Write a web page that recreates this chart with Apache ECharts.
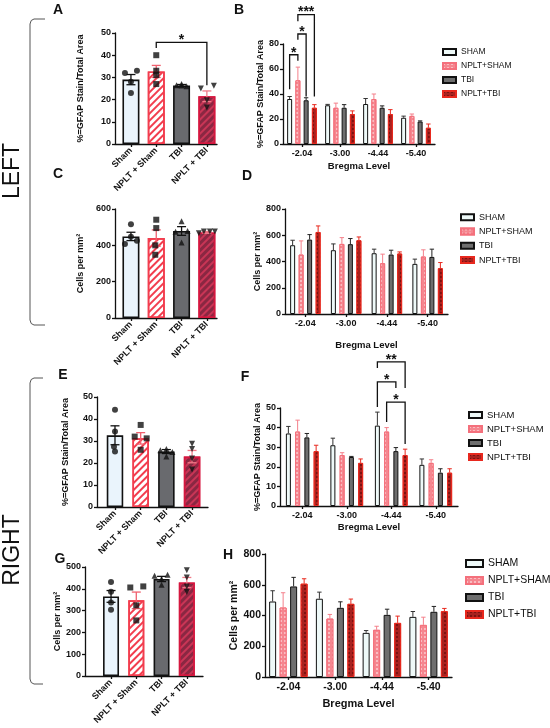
<!DOCTYPE html>
<html>
<head>
<meta charset="utf-8">
<script src="https://cdn.jsdelivr.net/npm/echarts@6.0.0/dist/echarts.min.js"></script>
<style>
  html, body { margin: 0; padding: 0; background: #fff; }
  #main { width: 550px; height: 728px; }
</style>
</head>
<body>
<div id="main"></div>
<script>
// ---- data ----
const groups = ['Sham', 'NPLT + Sham', 'TBI', 'NPLT + TBI'];
const seriesNames = ['SHAM', 'NPLT+SHAM', 'TBI', 'NPLT+TBI'];
const bregma = ['-2.04', '-3.00', '-4.44', '-5.40'];

// A: left hemisphere, %GFAP
const meanA = [29, 32.7, 26.3, 21.5];
const semA = [2.3, 2.7, 0.5, 2.4];
const dotsA = [[32, 33, 28, 23], [40, 33, 31, 27], [26.5, 27, 26, 26.3], [25, 26.2, 19.7, 16.4]];
const sigA = [[1, 3, 45.8, 43.2, 26.5]];          // from, to, top, left end, right end
const starsA = ['*'];

// B: left, %GFAP by bregma level (rows = SHAM, NPLT+SHAM, TBI, NPLT+TBI)
const meanB = [[36, 31, 32, 21], [51, 29, 36, 22.5], [35, 29, 29, 18], [29, 24, 24, 13]];
const semB = [[2, 0.7, 4.4, 1.3], [10.5, 3.7, 4, 1.5], [2, 2.5, 1.5, 0.5], [2.5, 2.5, 3.5, 3]];
const sigB = [[0, 0, 1, 71.4, 43.9, 66.6], [0, 1, 2, 88, 83.5, 38], [0, 1, 3, 103.5, 98.2, 38]]; // level, bar1, bar2, top, left end, right end
const starsB = ['*', '*', '***'];

// C: left, cells per mm2
const meanC = [449, 440, 479, 471];
const semC = [23, 45, 24, 5];
const dotsC = [[516, 407, 425, 447], [541, 495, 400, 348], [532, 475, 479, 416], [466, 476, 476, 476]];

// D: left, cells per mm2 by bregma level
const meanD = [[524, 486, 463, 382], [453, 534, 387, 438], [567, 532, 453, 435], [625, 562, 461, 349]];
const semD = [[38, 48, 31, 36], [104, 48, 69, 51], [38, 43, 33, 59], [46, 25, 12, 43]];

// E: right, %GFAP
const meanE = [32.6, 31.2, 25.2, 22.9];
const semE = [4.3, 2.6, 0.9, 2.8];
const dotsE = [[44.2, 34.3, 27.4, 25.2], [37.3, 32, 31.2, 26], [26.4, 25.8, 25, 22.9], [28.7, 26.4, 22, 17.1]];

// F: right, %GFAP by bregma level
const meanF = [[37, 31, 41, 21], [38, 26, 38, 22], [35, 25, 28, 17], [28, 22, 26, 17]];
const semF = [[3.6, 3.6, 6.9, 3], [5.8, 1.2, 2, 1.6], [2, 0.3, 1.8, 2], [3, 2, 3, 2]];
const sigF = [[2, 0, 3, 73.5, 70.4, 60.2], [2, 0, 2, 63.3, 50.5, 60.2], [2, 1, 3, 53, 42.9, 31.6]];
const starsF = ['**', '*', '*'];

// G: right, cells per mm2
const meanG = [365, 347, 445, 429];
const semG = [27, 38, 12, 23];
const dotsG = [[431, 386, 337, 304], [406, 411, 324, 255], [460, 465, 419, 445], [485, 452, 411, 385]];

// H: right, cells per mm2 by bregma level
const meanH = [[491, 509, 287, 391], [452, 380, 307, 339], [589, 450, 404, 424], [607, 476, 352, 428]];
const semH = [[70, 43, 15, 35], [96, 27, 23, 50], [59, 39, 37, 35], [32, 31, 44, 18]];

// ---- styles ----
const FONT = '"Liberation Sans", Arial, Helvetica, sans-serif';
const INK = '#111';

function stripe(c) {
  return { symbol: 'rect', symbolSize: 1, dashArrayX: [1, 0], dashArrayY: [2, 3], rotation: -Math.PI / 4, color: c };
}
function checker(c) {
  return { symbol: 'rect', symbolSize: 1, dashArrayX: [2, 2], dashArrayY: [2, 2], color: c };
}

const singleStyle = [
  { color: '#eaf4fc', borderColor: INK, borderWidth: 1.6 },
  { color: '#ffffff', borderColor: '#f23d4e', borderWidth: 1.6, decal: stripe('#f23d4e') },
  { color: '#696a6e', borderColor: INK, borderWidth: 1.6 },
  { color: '#8a2742', borderColor: '#d5173f', borderWidth: 1.6, decal: stripe('#c93556') }
];
const singleErr = [INK, '#f0606e', INK, '#f07a88'];
const dotSym = ['circle', 'rect', 'triangle', 'triangle'];
const dotRot = [0, 0, 0, 180];
// horizontal scatter of the dots, px
const jitA = [[-6, 6, 0, 0], [0, 0, 0, 0], [-5, 0, 5, 0], [-6, 7, 0, 0]];
const jitC = [[0, -6, 6, 0], [0, 0, -1, -1], [0, -6, 6, 0], [-8, -3, 3, 8]];
const jitE = [[0, 0, -1, 0], [0, -6, 6, 0], [0, -6, 6, 0], [0, 0, 0, 0]];
const jitG = [[0, 0, 0, 0], [-6, 7, 0, 0], [-7, 6, 0, 0], [0, 0, 0, 0]];

const groupStyle = [
  { color: '#eef9f8', borderColor: INK, borderWidth: 1 },
  { color: '#f5868f', borderColor: '#f4707c', borderWidth: 1, decal: checker('rgba(255,255,255,0.45)') },
  { color: '#6e6e6e', borderColor: INK, borderWidth: 1 },
  { color: '#a8221f', borderColor: '#e8281e', borderWidth: 1, decal: checker('rgba(70,0,0,0.45)') }
];
const groupErr = ['#333', '#f4808b', '#222', '#e8281e'];

const grids = [], xAxes = [], yAxes = [], series = [], legends = [];

function yAxisCfg(gi, max, step, name, gap, fs) {
  return {
    gridIndex: gi, type: 'value', min: 0, max: max, interval: step,
    name: name, nameLocation: 'middle', nameGap: gap, nameRotate: 90,
    nameTextStyle: { fontFamily: FONT, fontWeight: 'bold', fontSize: fs, color: INK },
    axisLine: { show: true, onZero: false, lineStyle: { color: INK, width: 1.3 } },
    axisTick: { show: true, length: 3, lineStyle: { color: INK, width: 1.3 } },
    axisLabel: { fontFamily: FONT, fontWeight: 'bold', fontSize: fs, color: INK, margin: 4 },
    splitLine: { show: false }
  };
}

function addSingle(p) {
  const gi = grids.length;
  grids.push(p.grid);
  xAxes.push({
    gridIndex: gi, type: 'value', min: p.xMin, max: p.xMax,
    axisLine: { show: true, onZero: false, lineStyle: { color: INK, width: 1.3 } },
    axisTick: { show: true, customValues: [0, 1, 2, 3], length: 3, lineStyle: { color: INK, width: 1.3 } },
    axisLabel: {
      customValues: [0, 1, 2, 3], formatter: v => groups[Math.round(v)], rotate: 45, margin: 5,
      fontFamily: FONT, fontWeight: 'bold', fontSize: p.fs, color: INK
    },
    splitLine: { show: false }
  });
  yAxes.push(yAxisCfg(gi, p.yMax, p.yStep, p.yName, p.nameGap, p.fs));
  series.push({
    type: 'bar', xAxisIndex: gi, yAxisIndex: gi, barWidth: p.barW, z: 2,
    data: p.means.map((v, i) => ({ value: [i, v], itemStyle: singleStyle[i] }))
  });
  series.push({
    type: 'custom', xAxisIndex: gi, yAxisIndex: gi, z: 4, clip: false,
    data: p.means.map((v, i) => [i, v, p.sems[i]]),
    renderItem: function (params, api) {
      const x = api.value(0), m = api.value(1), e = api.value(2);
      const t = api.coord([x, m + e]), b = api.coord([x, m - e]);
      const st = { stroke: singleErr[params.dataIndex], lineWidth: 1.3 };
      return { type: 'group', children: [
        { type: 'line', shape: { x1: t[0], y1: t[1], x2: b[0], y2: b[1] }, style: st },
        { type: 'line', shape: { x1: t[0] - 4.5, y1: t[1], x2: t[0] + 4.5, y2: t[1] }, style: st },
        { type: 'line', shape: { x1: b[0] - 4.5, y1: b[1], x2: b[0] + 4.5, y2: b[1] }, style: st }
      ] };
    }
  });
  p.dots.forEach((vals, i) => {
    series.push({
      type: 'scatter', xAxisIndex: gi, yAxisIndex: gi, z: 5,
      symbol: dotSym[i], symbolRotate: dotRot[i], symbolSize: 6,
      itemStyle: { color: INK },
      data: vals.map((v, j) => ({ value: [i, v], symbolOffset: [p.jit[i][j], 0] }))
    });
  });
  if (p.sig) {
    series.push({
      type: 'custom', xAxisIndex: gi, yAxisIndex: gi, z: 6, clip: false,
      data: p.sig,
      renderItem: function (params, api) {
        const r = p.sig[params.dataIndex];
        const a = api.coord([r[0], r[2]]), b = api.coord([r[1], r[2]]);
        const yl = api.coord([r[0], r[3]])[1], yr = api.coord([r[1], r[4]])[1];
        return bracket(a[0], b[0], a[1], yl, yr, p.stars[params.dataIndex]);
      }
    });
  }
}

function bracket(x1, x2, yt, yl, yr, label) {
  return { type: 'group', children: [
    { type: 'polyline', shape: { points: [[x1, yl], [x1, yt], [x2, yt], [x2, yr]] },
      style: { stroke: INK, lineWidth: 1.3, fill: 'none' } },
    { type: 'text', x: (x1 + x2) / 2, y: yt - 2,
      style: { text: label, fontFamily: FONT, fontWeight: 'bold', fontSize: 14, fill: INK, align: 'center', verticalAlign: 'middle' } }
  ] };
}

function addGrouped(p) {
  const gi = grids.length;
  grids.push(p.grid);
  xAxes.push({
    gridIndex: gi, type: 'category', data: bregma,
    name: 'Bregma Level', nameLocation: 'middle', nameGap: p.xNameGap,
    nameTextStyle: { fontFamily: FONT, fontWeight: 'bold', fontSize: p.fs + 0.5, color: INK },
    axisLine: { show: true, lineStyle: { color: INK, width: 1.3 } },
    axisTick: { show: true, alignWithLabel: true, length: 3, lineStyle: { color: INK, width: 1.3 } },
    axisLabel: { fontFamily: FONT, fontWeight: 'bold', fontSize: p.fs, color: INK, margin: 5 },
    splitLine: { show: false }
  });
  yAxes.push(yAxisCfg(gi, p.yMax, p.yStep, p.yName, p.nameGap, p.fs));
  p.means.forEach((arr, k) => {
    series.push({
      type: 'bar', name: seriesNames[k], xAxisIndex: gi, yAxisIndex: gi,
      barWidth: p.barW, barGap: p.gap * 100 + '%', z: 2,
      itemStyle: groupStyle[k], data: arr
    });
  });
  const step = p.barW * (1 + p.gap);
  const errData = [];
  p.means.forEach((arr, k) => arr.forEach((v, c) => errData.push([c, v, p.sems[k][c], k])));
  series.push({
    type: 'custom', xAxisIndex: gi, yAxisIndex: gi, z: 4, clip: false,
    data: errData,
    renderItem: function (params, api) {
      const c = api.value(0), v = api.value(1), e = api.value(2), k = api.value(3);
      const b = api.coord([c, v]), t = api.coord([c, v + e]);
      const x = b[0] + (k - 1.5) * step;
      const st = { stroke: groupErr[k], lineWidth: 1 };
      return { type: 'group', children: [
        { type: 'line', shape: { x1: x, y1: b[1], x2: x, y2: t[1] }, style: st },
        { type: 'line', shape: { x1: x - 2.2, y1: t[1], x2: x + 2.2, y2: t[1] }, style: st }
      ] };
    }
  });
  if (p.sig) {
    series.push({
      type: 'custom', xAxisIndex: gi, yAxisIndex: gi, z: 6, clip: false,
      data: p.sig,
      renderItem: function (params, api) {
        const r = p.sig[params.dataIndex];
        const base = api.coord([r[0], r[3]]);
        const x1 = base[0] + (r[1] - 1.5) * step, x2 = base[0] + (r[2] - 1.5) * step;
        const yl = api.coord([r[0], r[4]])[1], yr = api.coord([r[0], r[5]])[1];
        return bracket(x1, x2, base[1], yl, yr, p.stars[params.dataIndex]);
      }
    });
  }
  legends.push({
    left: p.legend[0], top: p.legend[1], orient: 'vertical', selectedMode: false, padding: 0,
    icon: 'rect', itemWidth: p.legend[2], itemHeight: p.legend[3], itemGap: 0,
    textStyle: { fontFamily: FONT, fontSize: p.legend[4], color: INK, lineHeight: p.legend[5] },
    data: seriesNames
  });
}

addSingle({ grid: { left: 115, top: 33, width: 102, height: 111 }, xMin: -0.63, xMax: 3.4,
  yMax: 50, yStep: 10, yName: '%=GFAP Stain/Total Area', nameGap: 30, fs: 9, barW: 17,
  means: meanA, sems: semA, dots: dotsA, jit: jitA, sig: sigA, stars: starsA });
addGrouped({ grid: { left: 283, top: 44, width: 152, height: 100 }, yMax: 80, yStep: 20,
  yName: '%=GFAP Stain/Total Area', nameGap: 12, fs: 9, barW: 5, gap: 0.65, xNameGap: 17,
  means: meanB, sems: semB, sig: sigB, stars: starsB, legend: [442, 45, 13, 6, 8.5, 14] });
addSingle({ grid: { left: 115, top: 209, width: 102, height: 109 }, xMin: -0.63, xMax: 3.4,
  yMax: 600, yStep: 200, yName: 'Cells per mm²', nameGap: 30, fs: 9, barW: 17,
  means: meanC, sems: semC, dots: dotsC, jit: jitC });
addGrouped({ grid: { left: 285, top: 209, width: 163, height: 105 }, yMax: 800, yStep: 200,
  yName: 'Cells per mm²', nameGap: 12, fs: 9, barW: 5, gap: 0.7, xNameGap: 26,
  means: meanD, sems: semD, legend: [460, 210, 13, 6, 9, 14.3] });
addSingle({ grid: { left: 97, top: 397, width: 111, height: 110 }, xMin: -0.7, xMax: 3.62,
  yMax: 50, yStep: 10, yName: '%=GFAP Stain/Total Area', nameGap: 27, fs: 9, barW: 16.5,
  means: meanE, sems: semE, dots: dotsE, jit: jitE });
addGrouped({ grid: { left: 280, top: 408, width: 178, height: 98 }, yMax: 50, yStep: 10,
  yName: '%=GFAP Stain/Total Area', nameGap: 12, fs: 9, barW: 5, gap: 0.85, xNameGap: 16,
  means: meanF, sems: semF, sig: sigF, stars: starsF, legend: [468, 408, 13, 6, 9.5, 14] });
addSingle({ grid: { left: 85, top: 567, width: 118, height: 109 }, xMin: -1.03, xMax: 3.64,
  yMax: 500, yStep: 100, yName: 'Cells per mm²', nameGap: 18, fs: 9, barW: 16,
  means: meanG, sems: semG, dots: dotsG, jit: jitG });
addGrouped({ grid: { left: 265, top: 554, width: 187, height: 123 }, yMax: 800, yStep: 200,
  yName: 'Cells per mm²', nameGap: 22, fs: 10.5, barW: 7, gap: 0.5, xNameGap: 21,
  means: meanH, sems: semH, legend: [465, 555, 17, 7, 10.5, 17] });

// panel letters and hemisphere brackets
const letters = [['A', 58, 10], ['B', 239, 10], ['C', 58, 174], ['D', 247, 176],
  ['E', 63, 375], ['F', 245, 377], ['G', 60, 559], ['H', 228, 555]];
const graphic = letters.map(l => ({
  type: 'text', x: l[1], y: l[2],
  style: { text: l[0], fontFamily: FONT, fontWeight: 'bold', fontSize: 14, fill: INK, align: 'center', verticalAlign: 'middle' }
}));
graphic.push(
  { type: 'polyline', shape: { points: [[45, 19], [34, 19], [31.2, 20.5], [30, 24], [30, 320], [31.2, 323.5], [34, 325], [45, 325]] },
    style: { stroke: '#555', lineWidth: 1, fill: 'none' } },
  { type: 'polyline', shape: { points: [[43, 378], [34, 378], [31.2, 379.5], [30, 383], [30, 679], [31.2, 682.5], [34, 684], [43, 684]] },
    style: { stroke: '#555', lineWidth: 1, fill: 'none' } },
  { type: 'text', x: 13, y: 171, rotation: Math.PI / 2,
    style: { text: 'LEFT', fontFamily: FONT, fontSize: 23, fill: INK, align: 'center', verticalAlign: 'middle' } },
  { type: 'text', x: 13, y: 550, rotation: Math.PI / 2,
    style: { text: 'RIGHT', fontFamily: FONT, fontSize: 23, fill: INK, align: 'center', verticalAlign: 'middle' } }
);

const chart = echarts.init(document.getElementById('main'), null, { renderer: 'canvas' });
chart.setOption({
  backgroundColor: '#fff',
  animation: false,
  grid: grids,
  xAxis: xAxes,
  yAxis: yAxes,
  legend: legends,
  graphic: graphic,
  series: series
});
</script>
</body>
</html>
